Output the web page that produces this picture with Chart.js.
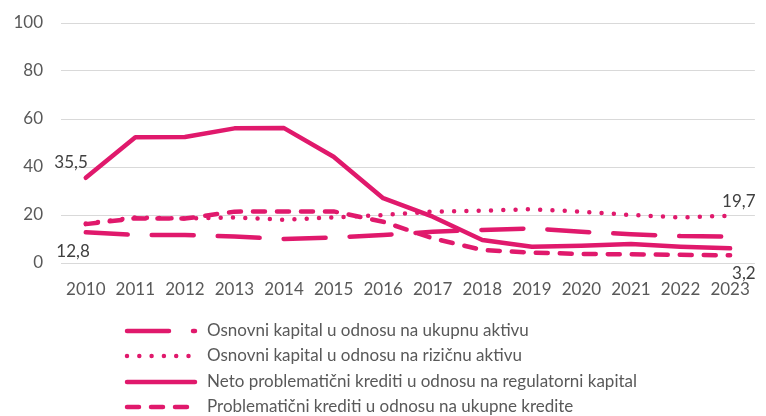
<!DOCTYPE html>
<html>
<head>
<meta charset="utf-8">
<script src="https://cdn.jsdelivr.net/npm/chart.js@4.4.0/dist/chart.umd.min.js"></script>
<style>
  html, body { margin: 0; padding: 0; background: #fff; }
  #wrap { position: relative; width: 766px; height: 416px; }
</style>
</head>
<body>
<div id="wrap"><canvas id="kapital"></canvas></div>
<script>
// godine
const years = ['2010', '2011', '2012', '2013', '2014', '2015', '2016',
               '2017', '2018', '2019', '2020', '2021', '2022', '2023'];

// pokazatelji (%)
const osnovniUkupna  = [12.8, 11.7, 11.7, 11.0, 10.0, 10.6, 11.7, 13.0, 13.8, 14.4, 13.0, 12.0, 11.2, 11.0];
const osnovniRizicna = [16.5, 19.0, 18.5, 19.0, 18.0, 19.0, 20.0, 21.4, 21.8, 22.4, 21.4, 20.0, 19.0, 19.7];
const netoNpl        = [35.5, 52.4, 52.5, 56.1, 56.2, 44.3, 27.0, 19.3, 9.6, 6.8, 7.2, 7.9, 6.8, 6.1];
const nplKrediti     = [16.2, 18.6, 18.5, 21.4, 21.5, 21.5, 17.2, 10.3, 5.4, 4.3, 3.8, 3.6, 3.4, 3.2];

const seriesNames = [
    'Osnovni kapital u odnosu na ukupnu aktivu',
    'Osnovni kapital u odnosu na rizičnu aktivu',
    'Neto problematični krediti u odnosu na regulatorni kapital',
    'Problematični krediti u odnosu na ukupne kredite'
];

const yMin = 0, yMax = 100, yStep = 20;

const pink = '#E0196C';
const textColor = '#595959';
const fontFamily = 'Lato, "Noto Sans", sans-serif';

// koji podaci dobivaju oznaku vrijednosti: [dataset, indeks, poravnanje, dx, dy]
const valueLabels = [
    [2, 0, 'right', 2, -15],
    [0, 0, 'right', 4, 19],
    [1, 13, 'left', -8, -14],
    [3, 13, 'left', 2, 18]
];

function fmt(v) {
    return v.toFixed(1).replace('.', ',');
}

function lineSet(label, data, dash) {
    return {
        label: label,
        data: data,
        borderColor: pink,
        backgroundColor: pink,
        borderWidth: 4.5,
        borderDash: dash,
        borderCapStyle: 'round',
        borderJoinStyle: 'round',
        pointRadius: 0,
        tension: 0,
        fill: false
    };
}

// oznake vrijednosti uz prvu i zadnju točku
const valueLabelPlugin = {
    id: 'valueLabels',
    afterDatasetsDraw(chart) {
        const ctx = chart.ctx;
        ctx.save();
        ctx.font = '17px ' + fontFamily;
        ctx.fillStyle = '#404040';
        ctx.textBaseline = 'middle';
        valueLabels.forEach(([ds, idx, align, dx, dy]) => {
            const pt = chart.getDatasetMeta(ds).data[idx];
            const v = chart.data.datasets[ds].data[idx];
            ctx.textAlign = align;
            ctx.fillText(fmt(v), pt.x + dx, pt.y + dy);
        });
        ctx.restore();
    }
};

// legenda ispod grafikona, jedna serija po retku
const lineLegendPlugin = {
    id: 'lineLegend',
    afterDraw(chart) {
        const ctx = chart.ctx;
        const x0 = 127, x1 = 195, textX = 207;
        const rowY = [331, 356, 382, 407];
        ctx.save();
        chart.data.datasets.forEach((d, i) => {
            const y = rowY[i];
            ctx.beginPath();
            ctx.strokeStyle = d.borderColor;
            ctx.lineWidth = d.borderWidth;
            ctx.lineCap = 'round';
            ctx.setLineDash(d.borderDash || []);
            ctx.moveTo(x0, y);
            ctx.lineTo(x1, y);
            ctx.stroke();
            ctx.setLineDash([]);
            ctx.font = '17px ' + fontFamily;
            ctx.fillStyle = textColor;
            ctx.textAlign = 'left';
            ctx.textBaseline = 'middle';
            ctx.fillText(d.label, textX, y);
        });
        ctx.restore();
    }
};

const ctx = document.getElementById('kapital').getContext('2d');
new Chart(ctx, {
    type: 'line',
    data: {
        labels: years,
        datasets: [
            lineSet(seriesNames[0], osnovniUkupna, [42, 24]),
            lineSet(seriesNames[1], osnovniRizicna, [0, 12.3]),
            lineSet(seriesNames[2], netoNpl, []),
            lineSet(seriesNames[3], nplKrediti, [12, 12])
        ]
    },
    options: {
        responsive: true,
        maintainAspectRatio: false,
        animation: false,
        layout: {
            padding: { left: 0, right: 5, top: 23, bottom: 113 }
        },
        plugins: {
            legend: { display: false },
            tooltip: { enabled: false }
        },
        scales: {
            x: {
                offset: true,
                grid: { display: false, drawTicks: false },
                border: { display: false },
                ticks: {
                    color: textColor,
                    font: { size: 17, family: fontFamily },
                    padding: 16,
                    maxRotation: 0,
                    autoSkip: false
                },
                afterFit: s => { s.height = 40; }
            },
            y: {
                min: yMin,
                max: yMax,
                grid: { color: '#d9d9d9', lineWidth: 1, drawTicks: false },
                border: { display: false },
                ticks: {
                    stepSize: yStep,
                    color: textColor,
                    font: { size: 17, family: fontFamily },
                    padding: 18
                },
                // fiksna širina osi, bez dodatnog razmaka iznad gornje oznake
                afterFit: s => {
                    s.width = 61;
                    s.paddingTop = 0;
                    s.paddingBottom = 0;
                }
            }
        }
    },
    plugins: [valueLabelPlugin, lineLegendPlugin]
});
</script>
</body>
</html>
